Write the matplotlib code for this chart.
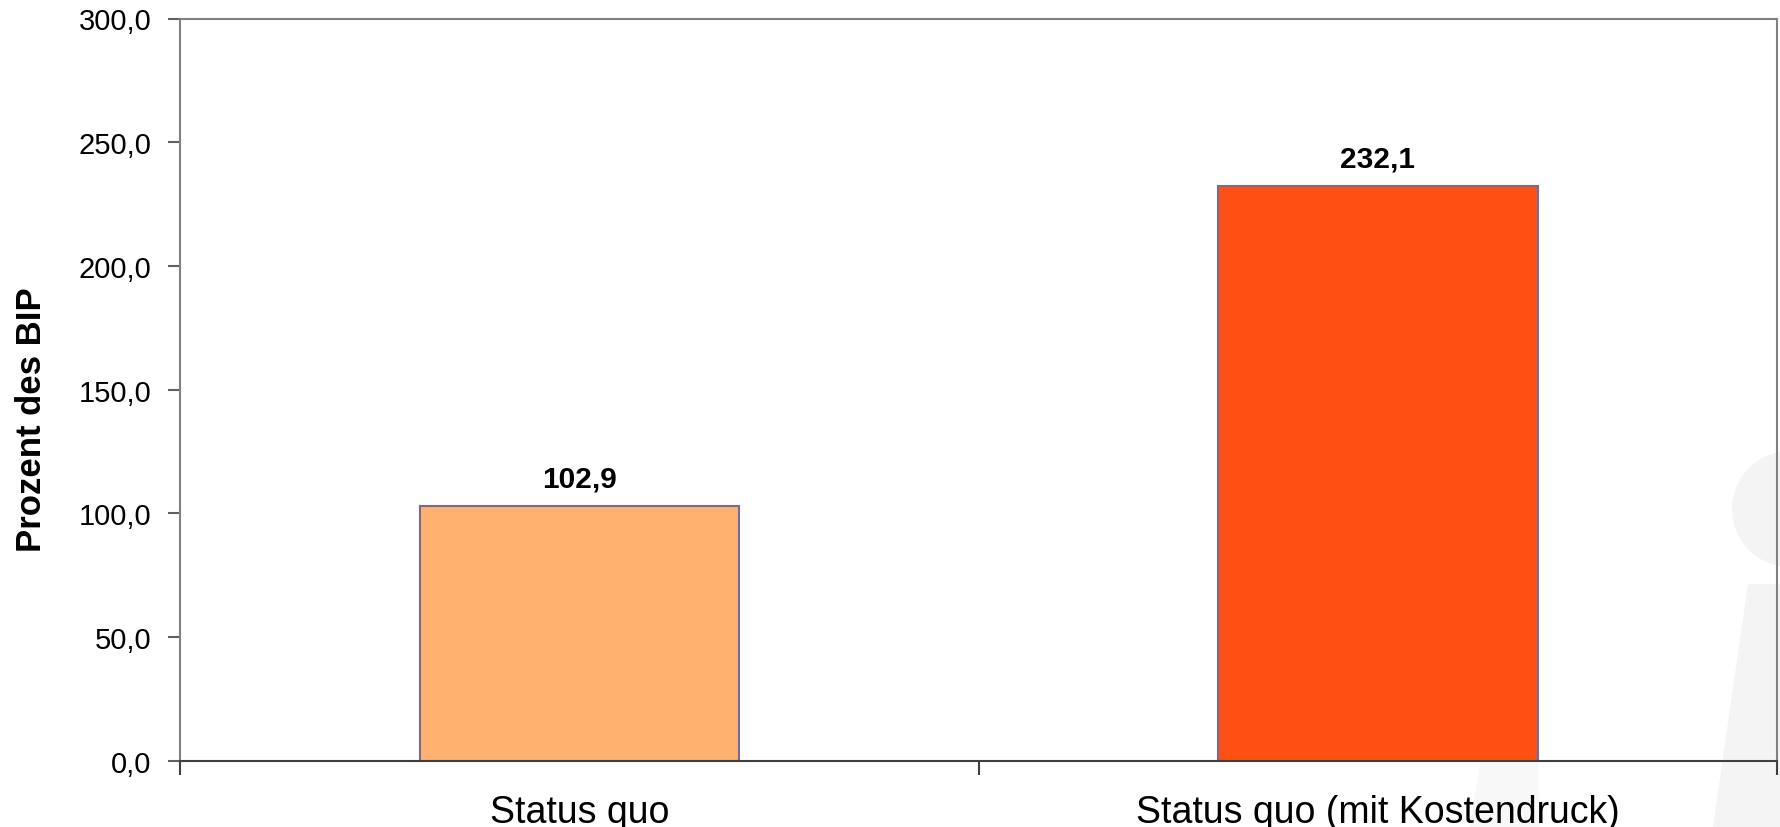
import matplotlib
matplotlib.use("Agg")
import matplotlib.pyplot as plt
from matplotlib.patches import Ellipse, Polygon
from matplotlib.ticker import FixedLocator, FuncFormatter

plt.rcParams["font.family"] = ["Liberation Sans", "DejaVu Sans"]

# Data
categories = ["Status quo", "Status quo (mit Kostendruck)"]
values = [102.9, 232.1]
bar_colors = ["#FFB170", "#FF5014"]
y_ticks = [0, 50, 100, 150, 200, 250, 300]
y_label = "Prozent des BIP"

W, H = 1781, 828
fig = plt.figure(figsize=(W / 100, H / 100), dpi=100, facecolor="white")

# Faint logo in the background
wm = "#F4F4F4"
fig.add_artist(Ellipse((1790 / W, 1 - 510 / H), 2 * 58 / W, 2 * 58 / H,
                       transform=fig.transFigure, color=wm, zorder=0, lw=0))
fig.add_artist(Polygon([(1748 / W, 1 - 585 / H), (1.0, 1 - 585 / H),
                        (1.0, 0.0), (1713 / W, 0.0)],
                       transform=fig.transFigure, color=wm, zorder=0, lw=0))
fig.add_artist(Polygon([(1500 / W, 1 - 640 / H), (1534 / W, 1 - 640 / H),
                        (1540 / W, 0.0), (1470 / W, 0.0)],
                       transform=fig.transFigure, color="#F8F8F8", zorder=0, lw=0))

left, right = 180.5 / W, 1777 / W
bottom, top = 1 - 761.7 / H, 1 - 19.5 / H
ax = fig.add_axes([left, bottom, right - left, top - bottom])
ax.set_facecolor("none")

x = list(range(len(categories)))
bars = ax.bar(x, values, width=0.4, color=bar_colors,
              edgecolor="#6E6E9E", linewidth=1.5, zorder=2)

for xi, v in zip(x, values):
    ax.annotate(f"{v:.1f}".replace(".", ","), (xi, v), xytext=(0, 10),
                textcoords="offset points", ha="center", va="bottom",
                fontsize=21.5, fontweight="bold", color="black")

ax.set_xlim(-0.5, len(categories) - 0.5)
ax.set_ylim(0, 300)
ax.set_yticks(y_ticks)
ax.yaxis.set_major_formatter(FuncFormatter(lambda v, p: f"{v:.1f}".replace(".", ",")))

ax.set_xticks(x)
ax.set_xticklabels(categories)
ax.xaxis.set_minor_locator(FixedLocator([i - 0.5 for i in range(len(categories) + 1)]))

ax.tick_params(axis="x", which="major", length=0, pad=24, labelsize=27)
ax.tick_params(axis="x", which="minor", length=10, width=1.5, color="#404040",
               direction="out")
ax.tick_params(axis="y", which="major", length=9, width=1.5, color="#606060",
               direction="out", pad=12, labelsize=21)

for side in ["left", "top", "right"]:
    ax.spines[side].set_color("#808080")
    ax.spines[side].set_linewidth(1.5)
ax.spines["bottom"].set_color("#404040")
ax.spines["bottom"].set_linewidth(1.5)

fig.text(32 / W, 1 - 420 / H, y_label, rotation=90, ha="center", va="center",
         fontsize=25, fontweight="bold")

fig.savefig("out.png", dpi=100, facecolor="white")
